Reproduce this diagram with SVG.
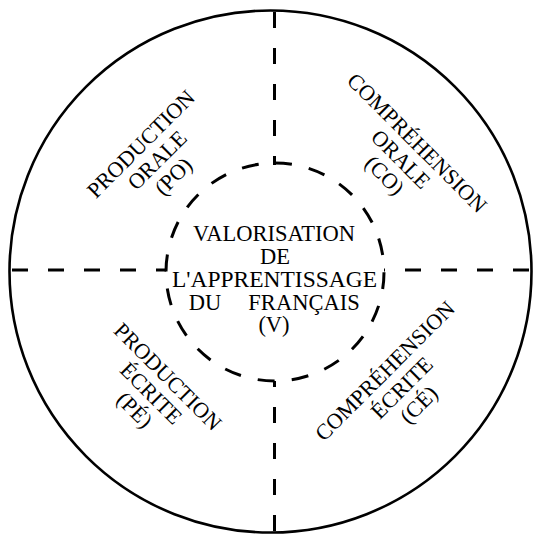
<svg xmlns="http://www.w3.org/2000/svg" width="539" height="536" viewBox="0 0 539 536">
<style>
.outer{fill:none;stroke:#000;stroke-width:2.6}
.dash{fill:none;stroke:#000;stroke-width:3;stroke-dasharray:16 20}
.inner{fill:none;stroke:#000;stroke-width:3;stroke-dasharray:17 17.25}
text{font-family:"Liberation Serif","Times New Roman",serif;fill:#000;text-anchor:middle}
.c{font-size:22.5px}
.l{font-size:22px}
</style>
<rect width="539" height="536" fill="#fff"/>
<g id="outer-circle"><circle class="outer" cx="270.5" cy="271.5" r="261"/></g>
<g id="connectors">
<line class="dash" x1="274.5" y1="12" x2="274.5" y2="165"/>
<line class="dash" x1="274.5" y1="531" x2="274.5" y2="381"/>
<line class="dash" x1="12" y1="270" x2="166" y2="270"/>
<line class="dash" x1="529" y1="270" x2="384" y2="270"/>
</g>
<g id="node-V">
<circle class="inner" cx="275" cy="272" r="109" transform="rotate(-90 275 272)"/>
<text class="c"><tspan x="274" y="241">VALORISATION</tspan><tspan x="275" y="264">DE</tspan><tspan x="274.5" y="287" textLength="205" lengthAdjust="spacingAndGlyphs">L'APPRENTISSAGE</tspan><tspan x="205" y="310">DU</tspan><tspan x="304" y="310">FRANÇAIS</tspan><tspan x="274" y="332">(V)</tspan></text>
</g>
<g id="node-PO" transform="translate(157 160) rotate(-45)">
<text class="l"><tspan x="0" y="-15.5">PRODUCTION</tspan><tspan x="0" y="7.5">ORALE</tspan><tspan x="0" y="30.5">(PO)</tspan></text>
</g>
<g id="node-CO" transform="translate(401 159) rotate(45)">
<text class="l"><tspan x="0" y="-15.5">COMPRÉHENSION</tspan><tspan x="0" y="7.5">ORALE</tspan><tspan x="0" y="30.5">(CO)</tspan></text>
</g>
<g id="node-PE" transform="translate(151.3 393.2) rotate(45)">
<text class="l"><tspan x="0" y="-16">PRODUCTION</tspan><tspan x="0" y="7.5">ÉCRITE</tspan><tspan x="0" y="31">(PÉ)</tspan></text>
</g>
<g id="node-CE" transform="translate(401 387) rotate(-45)">
<text class="l"><tspan x="0" y="-15.5">COMPRÉHENSION</tspan><tspan x="0" y="8.5">ÉCRITE</tspan><tspan x="0" y="32.5">(CÉ)</tspan></text>
</g>
</svg>
